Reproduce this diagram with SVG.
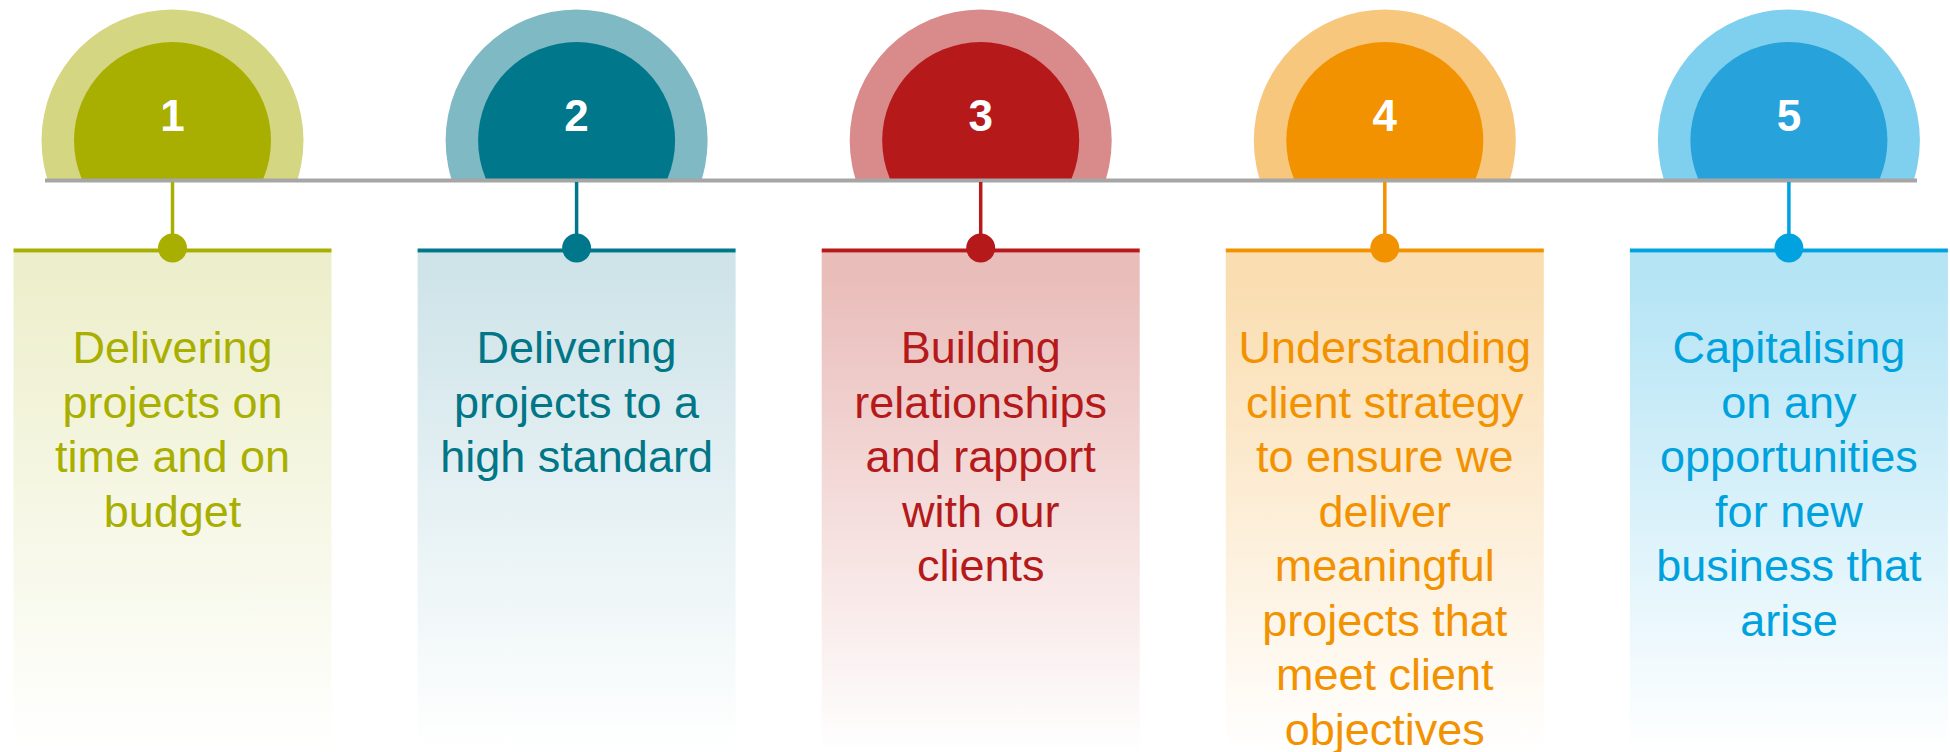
<svg xmlns="http://www.w3.org/2000/svg" width="1950" height="752" viewBox="0 0 1950 752">
<defs>
<clipPath id="above"><rect x="0" y="0" width="1950" height="179.5"/></clipPath>
<linearGradient id="g1" x1="0" y1="0" x2="0" y2="1"><stop offset="0" stop-color="#EDEFCC"/><stop offset="0.05" stop-color="#EDEFCC"/><stop offset="1" stop-color="#FFFFFF"/></linearGradient>
<linearGradient id="g2" x1="0" y1="0" x2="0" y2="1"><stop offset="0" stop-color="#CFE4E9"/><stop offset="0.05" stop-color="#CFE4E9"/><stop offset="1" stop-color="#FFFFFF"/></linearGradient>
<linearGradient id="g3" x1="0" y1="0" x2="0" y2="1"><stop offset="0" stop-color="#E9BDBA"/><stop offset="0.05" stop-color="#E9BDBA"/><stop offset="1" stop-color="#FFFFFF"/></linearGradient>
<linearGradient id="g4" x1="0" y1="0" x2="0" y2="1"><stop offset="0" stop-color="#FADDB0"/><stop offset="0.05" stop-color="#FADDB0"/><stop offset="1" stop-color="#FFFFFF"/></linearGradient>
<linearGradient id="g5" x1="0" y1="0" x2="0" y2="1"><stop offset="0" stop-color="#B5E4F5"/><stop offset="0.05" stop-color="#B5E4F5"/><stop offset="1" stop-color="#FFFFFF"/></linearGradient>
</defs>
<style>
.num{font-family:"Liberation Sans",Arial,sans-serif;font-size:44px;font-weight:bold;fill:#FFFFFF;text-anchor:middle}
.lbl{font-family:"Liberation Sans",Arial,sans-serif;font-size:45px;text-anchor:middle}
</style>
<rect width="1950" height="752" fill="#FFFFFF"/>

<g id="node1">
<g clip-path="url(#above)"><circle cx="172.5" cy="140.5" r="131" fill="#D4D682"/><circle cx="172.5" cy="140.5" r="98.5" fill="#A9AF00"/></g>
<text class="num" x="172.5" y="131">1</text>
<rect x="13.5" y="252.5" width="318" height="500" fill="url(#g1)"/>
<rect x="13.5" y="248.5" width="318" height="4" fill="#A9AF00"/>
<text class="lbl" fill="#A9AF00"><tspan x="172.5" y="363">Delivering</tspan><tspan x="172.5" y="417.5">projects on</tspan><tspan x="172.5" y="472">time and on</tspan><tspan x="172.5" y="526.5">budget</tspan></text>
</g>

<g id="node2">
<g clip-path="url(#above)"><circle cx="576.6" cy="140.5" r="131" fill="#7FB9C4"/><circle cx="576.6" cy="140.5" r="98.5" fill="#00778A"/></g>
<text class="num" x="576.6" y="131">2</text>
<rect x="417.6" y="252.5" width="318" height="500" fill="url(#g2)"/>
<rect x="417.6" y="248.5" width="318" height="4" fill="#00778A"/>
<text class="lbl" fill="#007687"><tspan x="576.6" y="363">Delivering</tspan><tspan x="576.6" y="417.5">projects to a</tspan><tspan x="576.6" y="472">high standard</tspan></text>
</g>

<g id="node3">
<g clip-path="url(#above)"><circle cx="980.7" cy="140.5" r="131" fill="#D98A8A"/><circle cx="980.7" cy="140.5" r="98.5" fill="#B5191A"/></g>
<text class="num" x="980.7" y="131">3</text>
<rect x="821.7" y="252.5" width="318" height="500" fill="url(#g3)"/>
<rect x="821.7" y="248.5" width="318" height="4" fill="#B5191A"/>
<text class="lbl" fill="#B5191A"><tspan x="980.7" y="363">Building</tspan><tspan x="980.7" y="417.5">relationships</tspan><tspan x="980.7" y="472">and rapport</tspan><tspan x="980.7" y="526.5">with our</tspan><tspan x="980.7" y="581">clients</tspan></text>
</g>

<g id="node4">
<g clip-path="url(#above)"><circle cx="1384.8" cy="140.5" r="131" fill="#F7C77E"/><circle cx="1384.8" cy="140.5" r="98.5" fill="#F39200"/></g>
<text class="num" x="1384.8" y="131">4</text>
<rect x="1225.8" y="252.5" width="318" height="500" fill="url(#g4)"/>
<rect x="1225.8" y="248.5" width="318" height="4" fill="#F39200"/>
<text class="lbl" fill="#F39200"><tspan x="1384.8" y="363">Understanding</tspan><tspan x="1384.8" y="417.5">client strategy</tspan><tspan x="1384.8" y="472">to ensure we</tspan><tspan x="1384.8" y="526.5">deliver</tspan><tspan x="1384.8" y="581">meaningful</tspan><tspan x="1384.8" y="635.5">projects that</tspan><tspan x="1384.8" y="690">meet client</tspan><tspan x="1384.8" y="744.5">objectives</tspan></text>
</g>

<g id="node5">
<g clip-path="url(#above)"><circle cx="1788.9" cy="140.5" r="131" fill="#7FCFEE"/><circle cx="1788.9" cy="140.5" r="98.5" fill="#27A2DA"/></g>
<text class="num" x="1788.9" y="131">5</text>
<rect x="1629.9" y="252.5" width="318" height="500" fill="url(#g5)"/>
<rect x="1629.9" y="248.5" width="318" height="4" fill="#00A3DF"/>
<text class="lbl" fill="#00A2DE"><tspan x="1788.9" y="363">Capitalising</tspan><tspan x="1788.9" y="417.5">on any</tspan><tspan x="1788.9" y="472">opportunities</tspan><tspan x="1788.9" y="526.5">for new</tspan><tspan x="1788.9" y="581">business that</tspan><tspan x="1788.9" y="635.5">arise</tspan></text>
</g>

<g id="connectors">
<rect x="45" y="178.5" width="1872" height="4" fill="#A6A6A6"/>
<line x1="172.5" y1="182" x2="172.5" y2="248" stroke="#A9AF00" stroke-width="3.5"/>
<circle cx="172.5" cy="248" r="14.5" fill="#A9AF00"/>
<line x1="576.6" y1="182" x2="576.6" y2="248" stroke="#00778A" stroke-width="3.5"/>
<circle cx="576.6" cy="248" r="14.5" fill="#00778A"/>
<line x1="980.7" y1="182" x2="980.7" y2="248" stroke="#B5191A" stroke-width="3.5"/>
<circle cx="980.7" cy="248" r="14.5" fill="#B5191A"/>
<line x1="1384.8" y1="182" x2="1384.8" y2="248" stroke="#F39200" stroke-width="3.5"/>
<circle cx="1384.8" cy="248" r="14.5" fill="#F39200"/>
<line x1="1788.9" y1="182" x2="1788.9" y2="248" stroke="#00A3DF" stroke-width="3.5"/>
<circle cx="1788.9" cy="248" r="14.5" fill="#00A3DF"/>
</g>
</svg>
